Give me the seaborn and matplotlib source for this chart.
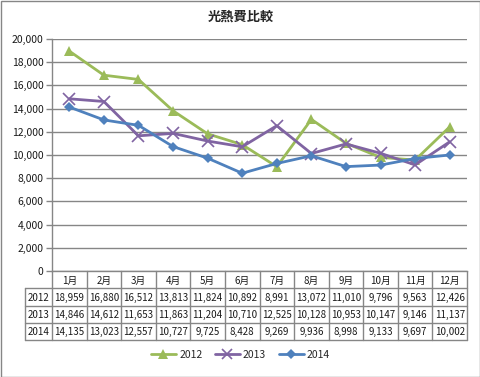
import numpy as np
import pandas as pd
import seaborn as sns
import matplotlib
matplotlib.use("Agg")
import matplotlib.pyplot as plt
from matplotlib.patches import Rectangle
from matplotlib.lines import Line2D

title = "光熱費比較"
months = ["1月", "2月", "3月", "4月", "5月", "6月", "7月", "8月", "9月", "10月", "11月", "12月"]
years = ["2012", "2013", "2014"]
v2012 = [18959, 16880, 16512, 13813, 11824, 10892, 8991, 13072, 11010, 9796, 9563, 12426]
v2013 = [14846, 14612, 11653, 11863, 11204, 10710, 12525, 10128, 10953, 10147, 9146, 11137]
v2014 = [14135, 13023, 12557, 10727, 9725, 8428, 9269, 9936, 8998, 9133, 9697, 10002]
yticks = list(range(0, 20001, 2000))

series = {"2012": v2012, "2013": v2013, "2014": v2014}
colors = {"2012": "#9BBB59", "2013": "#8064A2", "2014": "#4F81BD"}
markers = {"2012": "^", "2013": "x", "2014": "D"}
msizes = {"2012": 7.5, "2013": 8, "2014": 5.5}

sns.set_theme(style="white")
plt.rcParams["font.family"] = ["Noto Sans CJK JP", "DejaVu Sans"]

W, H = 481, 377
fig = plt.figure(figsize=(W / 100, H / 100), dpi=100)
fig.patch.set_facecolor("white")
fig.patches.append(Rectangle((0.5 / W, 0.5 / H), (W - 1.5) / W, (H - 1.5) / H,
                             transform=fig.transFigure, fill=False,
                             edgecolor="#868686", linewidth=1))

L, R, T, B = 52, 467, 39, 271
ax = fig.add_axes([L / W, (H - B) / H, (R - L) / W, (B - T) / H])

df = pd.DataFrame({
    "idx": np.tile(np.arange(len(months)), len(years)),
    "year": np.repeat(years, len(months)),
    "value": v2012 + v2013 + v2014,
})

for y in years:
    sub = df[df["year"] == y]
    sns.lineplot(data=sub, x="idx", y="value", ax=ax, color=colors[y],
                 marker=markers[y], markersize=msizes[y], linewidth=2,
                 markeredgewidth=1.2 if y == "2013" else 0,
                 markeredgecolor=colors[y], legend=False)

ax.set_xlim(-0.5, len(months) - 0.5)
ax.set_ylim(0, 20000)
ax.set_yticks(yticks)
ax.set_yticklabels([f"{t:,}" for t in yticks], fontsize=7.5, color="#1a1a1a")
ax.set_xticks([])
ax.set_xlabel("")
ax.set_ylabel("")
ax.yaxis.grid(True, color="#868686", linewidth=1)
ax.set_axisbelow(True)
for s in ["top", "right"]:
    ax.spines[s].set_visible(False)
for s in ["left", "bottom"]:
    ax.spines[s].set_color("#868686")
    ax.spines[s].set_linewidth(1)
ax.tick_params(axis="y", which="both", left=True, length=4, width=1,
               color="#868686", pad=2)

# data table
TL, TB = 25, 340
colw = (R - L) / len(months)
lab = (L - TL) / colw
axt = fig.add_axes([TL / W, (H - TB) / H, (R - TL) / W, (TB - B) / H])
axt.set_xlim(-0.5 - lab, len(months) - 0.5)
axt.set_ylim(4, 0)
axt.axis("off")
lc = "#868686"
for r in range(1, 5):
    axt.plot([-0.5 - lab, len(months) - 0.5], [r, r], color=lc, lw=1, clip_on=False)
axt.plot([-0.5 - lab, -0.5 - lab], [1, 4], color=lc, lw=1, clip_on=False)
for k in range(len(months) + 1):
    axt.plot([k - 0.5, k - 0.5], [0, 4], color=lc, lw=1, clip_on=False)
fs = 7
for i, m in enumerate(months):
    axt.text(i, 0.55, m, ha="center", va="center", fontsize=fs, color="#1a1a1a")
for r, y in enumerate(years, start=1):
    axt.text(-0.5 - lab / 2, r + 0.55, y, ha="center", va="center", fontsize=fs, color="#1a1a1a")
    for i, v in enumerate(series[y]):
        axt.text(i, r + 0.55, f"{v:,}", ha="center", va="center", fontsize=fs, color="#1a1a1a")

fig.text(0.5, 1 - 17 / H, title, ha="center", va="center", fontsize=9.5, fontweight="bold")

handles = [Line2D([], [], color=colors[y], marker=markers[y], markersize=msizes[y] * 0.9,
                  linewidth=2, markeredgewidth=1.2 if y == "2013" else 0,
                  markeredgecolor=colors[y]) for y in years]
fig.legend(handles, years, loc="center", bbox_to_anchor=(0.5, 22 / H), ncol=3,
           frameon=False, fontsize=7.5, handlelength=2.4, columnspacing=1.2,
           handletextpad=0.3)

fig.savefig("out.png", dpi=100, facecolor="white")
